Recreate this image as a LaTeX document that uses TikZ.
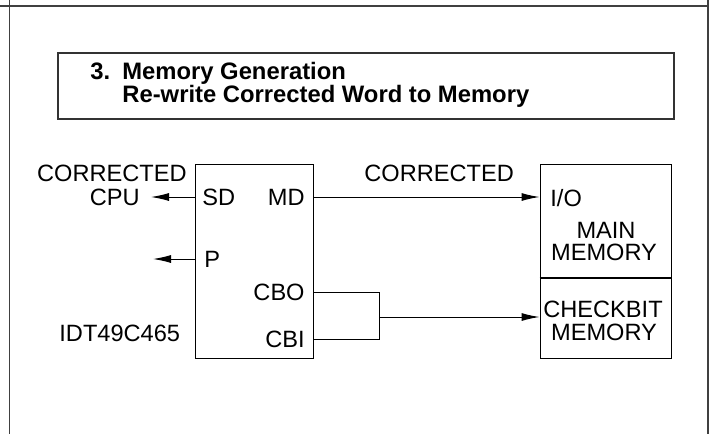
\documentclass[tikz,border=0pt]{standalone}
\usepackage{fontspec}
\setmainfont{Liberation Sans}
\usetikzlibrary{arrows.meta}
\begin{document}
\begin{tikzpicture}[x=0.5pt,y=-0.5pt,
	lbl/.style={inner sep=0pt, font=\fontsize{11.8}{13}\selectfont},
	ttl/.style={inner sep=0pt, font=\fontsize{11.9}{13}\selectfont\bfseries},
	wire/.style={line width=0.5pt},
	arr/.style={wire, -{Latex[length=9pt,width=4pt]}},
	frm/.style={line width=0.75pt, draw=black!75}]

	\useasboundingbox (0,0) rectangle (710,434);

	\draw[frm] (0,6) -- (708,6);
	\draw[frm] (9.5,0) -- (9.5,434);
	\draw[frm] (708,0) -- (708,434);

	\node (tbox) [draw=black!80, line width=0.6pt, minimum width=308pt, minimum height=33pt] at (366,86) {};
	\node (tnum) [ttl, anchor=base west] at (90,79.5) {3.};
	\node (tline1) [ttl, anchor=base west] at (122,79.5) {Memory Generation};
	\node (tline2) [ttl, anchor=base west] at (122,102.5) {Re-write Corrected Word to Memory};

	\node (chip) [draw, wire, minimum width=59pt, minimum height=97pt] at (254,261) {};
	\node (mem) [draw, wire, minimum width=65.5pt, minimum height=97pt] at (605.5,261) {};
	\draw[line width=0.85pt] (mem.west |- 0,278) -- (mem.east |- 0,278);

	\node (sdl) [lbl, anchor=base west] at (202,205) {SD};
	\node (mdl) [lbl, anchor=base east] at (305,205) {MD};
	\node (pl) [lbl, anchor=base west] at (204,267) {P};
	\node (cbol) [lbl, anchor=base east] at (305,300) {CBO};
	\node (cbil) [lbl, anchor=base east] at (305,347) {CBI};
	\node (part) [lbl, anchor=base west] at (59,341) {IDT49C465};

	\node (corrA) [lbl, anchor=base east] at (187,181) {CORRECTED};
	\node (cpu) [lbl, anchor=base east] at (140,205) {CPU};
	\node (corrB) [lbl, anchor=base west] at (364,181) {CORRECTED};

	\node (io) [lbl, anchor=base west] at (550,206) {I/O};
	\node (mainA) [lbl, anchor=base] at (606,238) {MAIN};
	\node (mainB) [lbl, anchor=base] at (604,260) {MEMORY};
	\node (chkA) [lbl, anchor=base] at (603,317) {CHECKBIT};
	\node (chkB) [lbl, anchor=base] at (604,340) {MEMORY};

	\coordinate (sd) at (195,197);
	\coordinate (md) at (313,197);
	\coordinate (p) at (195,259);
	\coordinate (cbo) at (313,292);
	\coordinate (cbi) at (313,339);
	\coordinate (cputip) at (151,197);
	\coordinate (ptip) at (153,259);
	\coordinate (jA) at (379,292);
	\coordinate (jB) at (379,339);
	\coordinate (jC) at (379,317);

	\draw[arr] (sd) -- (cputip);
	\draw[arr] (p) -- (ptip);
	\draw[arr] (md) -- (mem.west |- md);
	\draw[wire] (cbo) -- (jA) -- (jB) -- (cbi);
	\draw[arr] (jC) -- (mem.west |- jC);

\end{tikzpicture}
\end{document}
